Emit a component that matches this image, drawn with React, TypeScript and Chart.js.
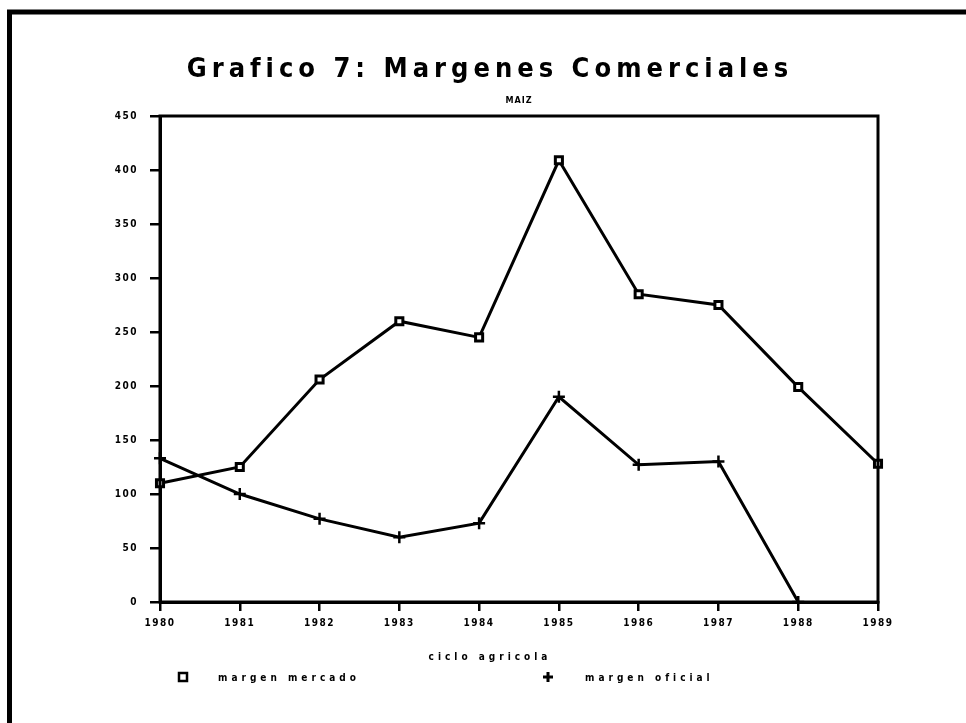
import React, { useEffect, useRef } from 'react';
import { Chart, registerables } from 'chart.js';

Chart.register(...registerables);

const years = ['1980', '1981', '1982', '1983', '1984', '1985', '1986', '1987', '1988', '1989'];
const margenMercado = [110, 125, 206, 260, 245, 409, 285, 275, 199, 128];
const margenOficial: (number | null)[] = [133, 100, 77, 60, 73, 190, 127, 130, 0, null];
const yMin = 0;
const yMax = 450;
const yStep = 50;

const titleText = 'Grafico 7: Margenes Comerciales';
const subtitleText = 'MAIZ';
const xTitleText = 'ciclo agricola';
const legendLabels = ['margen mercado', 'margen oficial'];

const FONT = '"DejaVu Sans Condensed", "DejaVu Sans", sans-serif';

const decorPlugin = {
  id: 'decor',
  beforeDraw(chart: any) {
    const ctx = chart.ctx as any;
    ctx.letterSpacing = '1.5px';
  },
  afterDraw(chart: any) {
    const ctx = chart.ctx as any;
    const a = chart.chartArea;
    ctx.save();
    ctx.strokeStyle = '#000';
    ctx.fillStyle = '#000';
    // plot box
    ctx.lineWidth = 3;
    ctx.strokeRect(a.left, a.top, a.right - a.left, a.bottom - a.top);
    // outer frame (left + top)
    ctx.lineWidth = 5;
    ctx.beginPath();
    ctx.moveTo(9.5, 730);
    ctx.lineTo(9.5, 12);
    ctx.lineTo(970, 12);
    ctx.stroke();

    const cx = (a.left + a.right) / 2;
    // title
    ctx.textAlign = 'center';
    ctx.textBaseline = 'middle';
    ctx.letterSpacing = '5px';
    ctx.font = `bold 27px ${FONT}`;
    ctx.fillText(titleText, 490, 70);
    // subtitle
    ctx.letterSpacing = '1px';
    ctx.font = `bold 9px ${FONT}`;
    ctx.fillText(subtitleText, cx, 101);
    // x axis title
    ctx.letterSpacing = '4px';
    ctx.font = `bold 10px ${FONT}`;
    ctx.fillText(xTitleText, 490, 657);

    // legend
    ctx.textAlign = 'left';
    ctx.letterSpacing = '4px';
    ctx.font = `bold 10px ${FONT}`;
    ctx.lineWidth = 2.5;
    ctx.strokeRect(179, 673, 8, 8);
    ctx.fillText(legendLabels[0], 218, 678);
    ctx.lineWidth = 3;
    ctx.beginPath();
    ctx.moveTo(543, 677);
    ctx.lineTo(553, 677);
    ctx.moveTo(548, 672);
    ctx.lineTo(548, 682);
    ctx.stroke();
    ctx.fillText(legendLabels[1], 585, 678);
    ctx.restore();
  },
};

export default function App() {
  const ref = useRef<HTMLCanvasElement | null>(null);
  useEffect(() => {
    if (!ref.current) return;
    const chart = new Chart(ref.current, {
      type: 'line',
      data: {
        labels: years,
        datasets: [
          {
            label: legendLabels[0],
            data: margenMercado,
            borderColor: '#000',
            borderWidth: 3,
            pointStyle: 'rect',
            pointRadius: 5,
            pointBorderWidth: 3,
            pointBackgroundColor: '#fff',
            pointBorderColor: '#000',
            tension: 0,
          },
          {
            label: legendLabels[1],
            data: margenOficial,
            borderColor: '#000',
            borderWidth: 3,
            pointStyle: 'cross',
            pointRadius: 6,
            pointBorderWidth: 2.5,
            pointBorderColor: '#000',
            tension: 0,
            spanGaps: false,
          },
        ],
      },
      options: {
        animation: false,
        responsive: false,
        devicePixelRatio: 1,
        layout: { padding: { left: 100, top: 116, right: 88, bottom: 71 } },
        plugins: {
          legend: { display: false },
          title: { display: false },
          tooltip: { enabled: false },
        },
        scales: {
          x: {
            type: 'category',
            offset: false,
            grid: {
              display: true,
              drawOnChartArea: false,
              drawTicks: true,
              tickLength: 9,
              color: '#000',
              lineWidth: 2.5,
            },
            border: { display: true, color: '#000', width: 3 },
            ticks: {
              color: '#000',
              padding: 6,
              maxRotation: 0,
              autoSkip: false,
              font: { family: FONT, size: 10, weight: 'bold' },
            },
            afterFit(scale: any) {
              scale.height = 50;
            },
          },
          y: {
            min: yMin,
            max: yMax,
            ticks: {
              stepSize: yStep,
              color: '#000',
              padding: 12,
              font: { family: FONT, size: 10, weight: 'bold' },
            },
            grid: {
              display: true,
              drawOnChartArea: false,
              drawTicks: true,
              tickLength: 10,
              color: '#000',
              lineWidth: 2.5,
            },
            border: { display: true, color: '#000', width: 3 },
            afterFit(scale: any) {
              scale.width = 60;
            },
          },
        },
      },
      plugins: [decorPlugin],
    });
    return () => chart.destroy();
  }, []);
  return (
    <div style={{ position: 'fixed', left: 0, top: 0, width: 966, height: 723, background: '#fff' }}>
      <canvas ref={ref} width={966} height={723} style={{ display: 'block' }} />
    </div>
  );
}
